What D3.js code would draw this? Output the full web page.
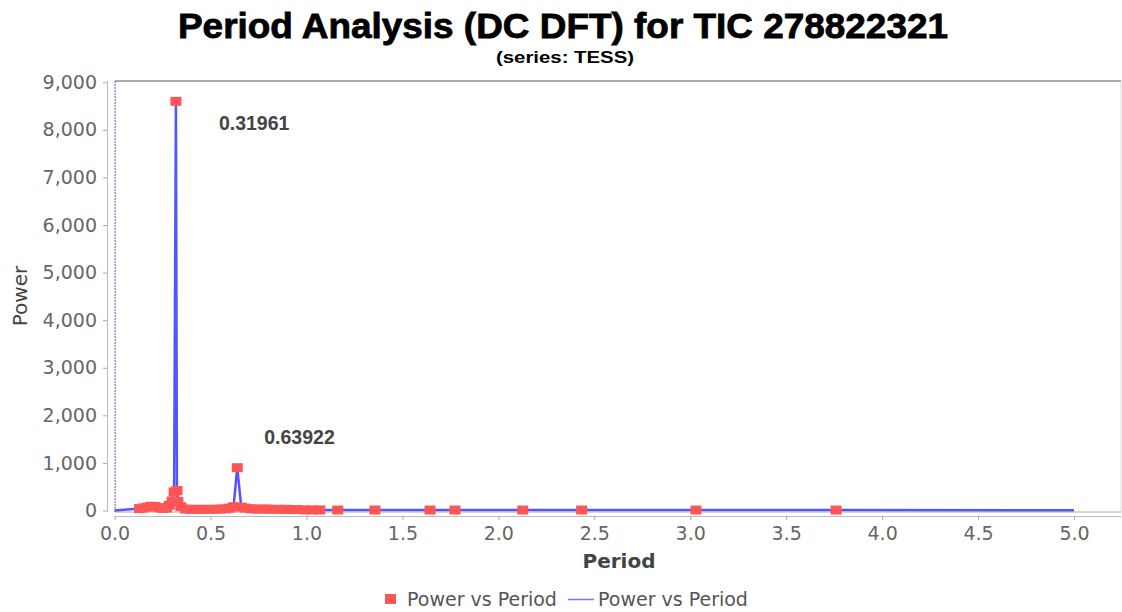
<!DOCTYPE html>
<html>
<head>
<meta charset="utf-8">
<script src="https://cdn.jsdelivr.net/npm/d3@7"></script>
<style>
  body { margin: 0; background: #fff; }
  svg { display: block; font-family: "DejaVu Sans", sans-serif; }
</style>
</head>
<body>
<div id="chart"></div>
<script>
// power spectrum points
const periods = [0.13, 0.15, 0.17, 0.19, 0.21, 0.23, 0.25, 0.27, 0.285, 0.30, 0.31, 0.31961, 0.325, 0.33, 0.345,
  0.37, 0.40, 0.43, 0.46, 0.49, 0.52, 0.55, 0.58, 0.60, 0.62, 0.63922, 0.66, 0.68,
  0.71, 0.74, 0.77, 0.80, 0.83, 0.86, 0.89, 0.92, 0.95,
  0.99, 1.03, 1.07, 1.163, 1.357, 1.644, 1.774, 2.127, 2.434, 3.03, 3.76];
const powers = [40, 55, 70, 90, 85, 60, 45, 50, 110, 200, 390, 8600, 420, 190, 80,
  30, 25, 25, 25, 25, 25, 30, 35, 50, 80, 900, 70, 50,
  35, 30, 30, 30, 25, 25, 25, 20, 20,
  12, 12, 12, 10, 10, 10, 10, 10, 10, 10, 10];
// the line runs along the baseline from 0 to 5.0
const lineStart = [0, 0];
const lineEnd = [5.0, 5];
const peakLabels = ["0.31961", "0.63922"];
const peakPeriods = [0.31961, 0.63922];
const peakPowers = [8600, 900];
const xTicks = [0, 0.5, 1, 1.5, 2, 2.5, 3, 3.5, 4, 4.5, 5];
const yTicks = [0, 1000, 2000, 3000, 4000, 5000, 6000, 7000, 8000, 9000];

const width = 1122, height = 612;
const plot = { left: 115, right: 1121, top: 81, bottom: 512 };
const tickFont = "DejaVu Sans, sans-serif";

const svg = d3.select("#chart").append("svg")
  .attr("width", width)
  .attr("height", height);

const x = d3.scaleLinear().domain([0, 5.245]).range([114.6, plot.right]);
const y = d3.scaleLinear().domain([0, 9000]).range([510.5, 82.3]);

// title
svg.append("text")
  .attr("x", 563).attr("y", 38)
  .attr("text-anchor", "middle")
  .attr("font-family", "Liberation Sans, Arial, sans-serif")
  .attr("font-weight", "bold")
  .attr("font-size", 35)
  .attr("textLength", 770).attr("lengthAdjust", "spacingAndGlyphs")
  .attr("stroke", "#000").attr("stroke-width", 0.8)
  .attr("fill", "#000")
  .text("Period Analysis (DC DFT) for TIC 278822321");
svg.append("text")
  .attr("x", 565).attr("y", 63)
  .attr("text-anchor", "middle")
  .attr("font-family", "Liberation Sans, Arial, sans-serif")
  .attr("font-weight", "bold")
  .attr("font-size", 16)
  .attr("textLength", 138).attr("lengthAdjust", "spacingAndGlyphs")
  .attr("fill", "#000")
  .text("(series: TESS)");

// plot frame
svg.append("rect")
  .attr("x", plot.left).attr("y", plot.top)
  .attr("width", plot.right - plot.left).attr("height", plot.bottom - plot.top)
  .attr("fill", "#fff").attr("stroke", "none");
svg.append("line")
  .attr("x1", plot.left).attr("x2", plot.right)
  .attr("y1", plot.top).attr("y2", plot.top)
  .attr("stroke", "#aaa").attr("stroke-width", 2);
svg.append("line")
  .attr("x1", plot.right).attr("x2", plot.right)
  .attr("y1", plot.top).attr("y2", plot.bottom)
  .attr("stroke", "#ddd");
svg.append("line")
  .attr("x1", plot.left).attr("x2", plot.right)
  .attr("y1", plot.bottom).attr("y2", plot.bottom)
  .attr("stroke", "#aaa");
svg.append("line")
  .attr("x1", x(0) + 0.5).attr("x2", x(0) + 0.5)
  .attr("y1", plot.top).attr("y2", plot.bottom)
  .attr("stroke", "#5a5aa0").attr("stroke-width", 1)
  .attr("stroke-dasharray", "2,1");

// axes
const xAxis = d3.axisBottom(x).tickValues(xTicks).tickFormat(d3.format(".1f"))
  .tickSizeInner(4).tickSizeOuter(0).tickPadding(4);
const gx = svg.append("g")
  .attr("transform", `translate(0,516)`)
  .call(xAxis)
  .attr("font-family", tickFont);
gx.select(".domain").attr("stroke", "#bbb").attr("d", `M${plot.left},0.5H${plot.right}`);
gx.selectAll(".tick line").attr("stroke", "#aaa");
gx.selectAll(".tick text").attr("fill", "#666").attr("font-size", 19).attr("dy", "0.85em");

const yAxis = d3.axisLeft(y).tickValues(yTicks).tickFormat(d3.format(","))
  .tickSizeInner(4).tickSizeOuter(0).tickPadding(6);
const gy = svg.append("g")
  .attr("transform", `translate(107,0)`)
  .call(yAxis)
  .attr("font-family", tickFont);
gy.select(".domain").attr("stroke", "#bbb").attr("d", `M0.5,${plot.top}V${plot.bottom}`);
gy.selectAll(".tick line").attr("stroke", "#aaa");
gy.selectAll(".tick text").attr("fill", "#666").attr("font-size", 19);

// axis labels
svg.append("text")
  .attr("x", 619).attr("y", 568)
  .attr("text-anchor", "middle")
  .attr("font-size", 20).attr("font-weight", "bold")
  .attr("fill", "#444")
  .text("Period");
svg.append("text")
  .attr("transform", "translate(27,296) rotate(-90)")
  .attr("text-anchor", "middle")
  .attr("font-size", 20)
  .attr("fill", "#444")
  .text("Power");

// series
const pts = periods.map((p, i) => [p, powers[i]]);
const linePts = [lineStart, ...pts, lineEnd];

const line = d3.line().x(d => x(d[0])).y(d => y(d[1]));
svg.append("path")
  .datum(linePts)
  .attr("fill", "none")
  .attr("stroke", "#5555ff")
  .attr("stroke-width", 2.5)
  .attr("d", line);

svg.append("g")
  .attr("fill", "#ff5555")
  .selectAll("rect")
  .data(pts)
  .join("rect")
  .attr("x", d => x(d[0]) - 5.5)
  .attr("y", d => y(d[1]) - 4.5)
  .attr("width", 11)
  .attr("height", 9);

// peak annotations
svg.append("g")
  .attr("font-family", "Liberation Sans, Arial, sans-serif")
  .selectAll("text")
  .data(peakLabels)
  .join("text")
  .attr("x", (d, i) => x(peakPeriods[i]) + (i === 0 ? 43 : 27))
  .attr("y", (d, i) => y(peakPowers[i]) + (i === 0 ? 29 : -24))
  .attr("font-size", 19.5).attr("font-weight", "bold")
  .attr("fill", "#444")
  .text(d => d);

// legend
const legend = svg.append("g").attr("font-size", 19).attr("fill", "#555");
legend.append("rect")
  .attr("x", 385).attr("y", 594).attr("width", 11).attr("height", 10)
  .attr("fill", "#ff5555");
legend.append("text").attr("x", 407).attr("y", 606).text("Power vs Period");
legend.append("line")
  .attr("x1", 568).attr("x2", 594).attr("y1", 599.5).attr("y2", 599.5)
  .attr("stroke", "#7777ff").attr("stroke-width", 1.5);
legend.append("text").attr("x", 598).attr("y", 606).text("Power vs Period");
</script>
</body>
</html>
